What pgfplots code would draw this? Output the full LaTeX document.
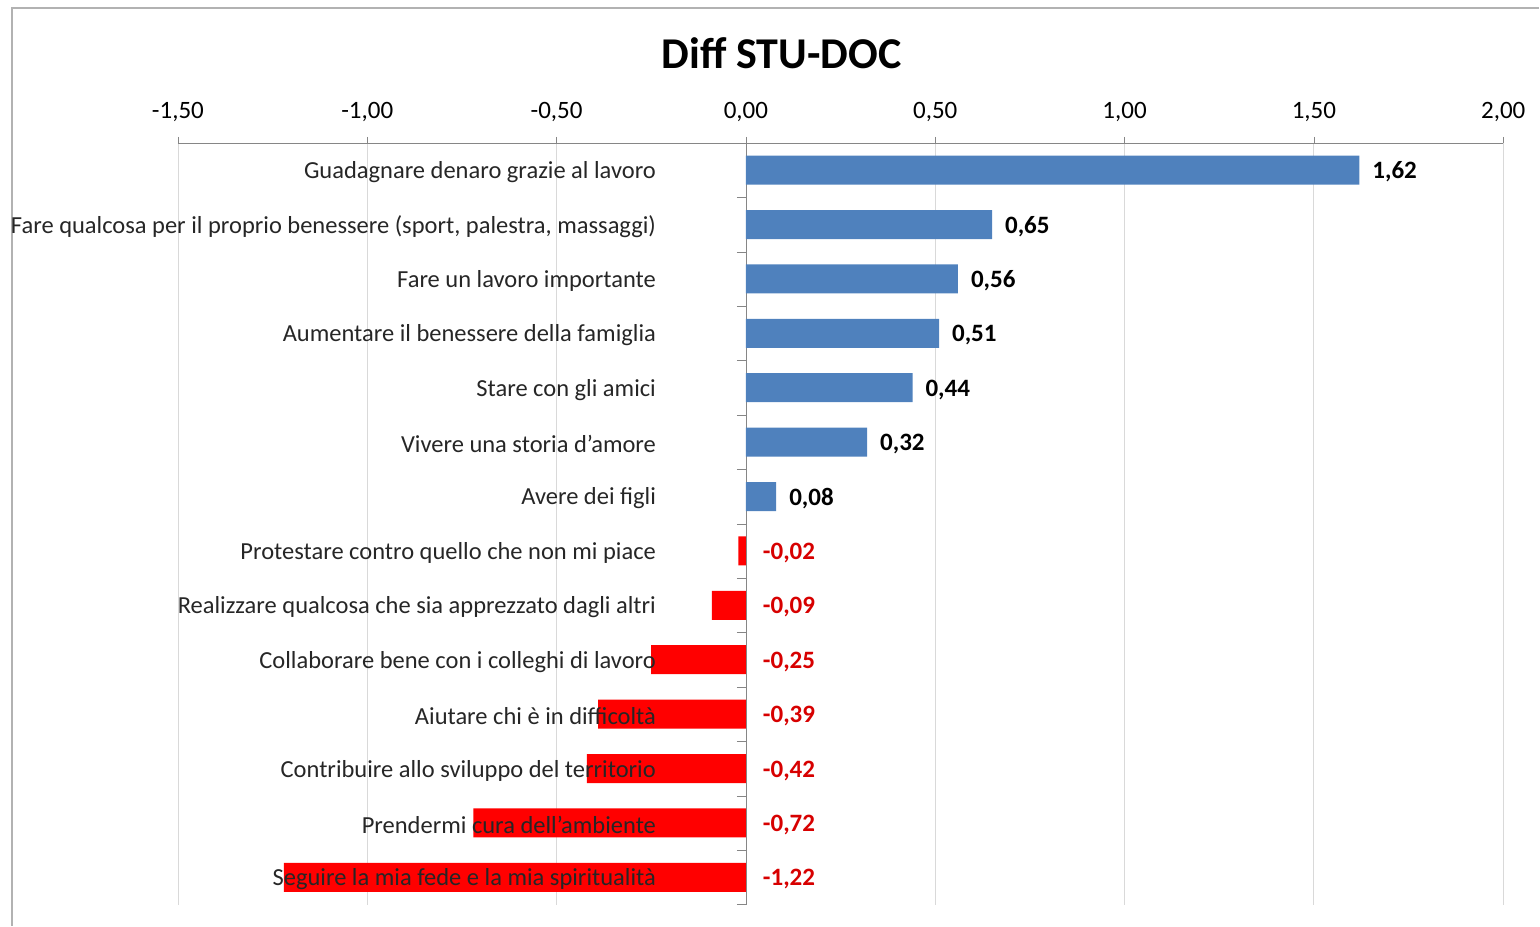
\documentclass[border=0pt]{standalone}
\usepackage{pgfplots}
\pgfplotsset{compat=1.18}
\usepackage{pgfplotstable}
\usepackage{fontspec}
\setmainfont{Carlito}
\definecolor{barblue}{RGB}{79,129,189}
\definecolor{barred}{RGB}{255,0,0}
\definecolor{labred}{RGB}{215,0,0}
\definecolor{gridgray}{RGB}{217,217,217}
\definecolor{axgray}{RGB}{134,134,134}

\pgfplotstableread{
y v
0 1.62
1 0.65
2 0.56
3 0.51
4 0.44
5 0.32
6 0.08
}\posdata
\pgfplotstableread{
y v z
7 -0.02 0
8 -0.09 0
9 -0.25 0
10 -0.39 0
11 -0.42 0
12 -0.72 0
13 -1.22 0
}\negdata
\pgfplotstableread[col sep=semicolon]{
y;z;name
0;0;Guadagnare denaro grazie al lavoro
1;0;Fare qualcosa per il proprio benessere (sport, palestra, massaggi)
2;0;Fare un lavoro importante
3;0;Aumentare il benessere della famiglia
4;0;Stare con gli amici
5;0;Vivere una storia d’amore
6;0;Avere dei figli
7;0;Protestare contro quello che non mi piace
8;0;Realizzare qualcosa che sia apprezzato dagli altri
9;0;Collaborare bene con i colleghi di lavoro
10;0;Aiutare chi è in difficoltà
11;0;Contribuire allo sviluppo del territorio
12;0;Prendermi cura dell'ambiente
13;0;Seguire la mia fede e la mia spiritualità
}\labdata

\begin{document}
\begin{tikzpicture}
\path (0,0) rectangle (770pt,463pt);
\draw[gray!60, line width=0.8pt] (6pt,0) -- (6pt,459pt) -- (770pt,459pt);
\node[font=\bfseries\fontsize{22}{26}\selectfont] at (391pt,436.5pt) {Diff STU-DOC};
\begin{axis}[
  at={(89pt,391.5pt)}, anchor=north west,
  scale only axis, width=663pt, height=381pt,
  xmin=-1.5, xmax=2, ymin=-0.5, ymax=13.5,
  y dir=reverse,
  enlargelimits=false,
  axis x line*=top,
  axis y line=middle,
  axis line style={-, draw=axgray},
  xtick={-1.5,-1,...,2},
  xmajorgrids, grid style={gridgray},
  tick align=outside,
  major x tick style={draw=axgray},
  major tick length=3pt,
  xticklabel style={font=\fontsize{12.5}{14}\selectfont, yshift=4pt},
  xticklabel={\pgfmathprintnumber[fixed, fixed zerofill, precision=2, use comma, assume math mode=true]{\tick}},
  ytick={0,...,13},
  yticklabels={},
  major y tick style={draw=none},
  minor ytick={-0.5,0.5,...,13.5},
  minor y tick style={draw=axgray},
  minor tick length=4.5pt,
  clip=false,
]
\addplot[xbar, bar width=14.5pt, bar shift=0pt, fill=barblue, draw=none,
  nodes near coords, point meta=explicit,
  nodes near coords style={anchor=west, xshift=3pt, yshift=-1pt, font=\bfseries\fontsize{12.5}{14}\selectfont, text=black,
    /pgf/number format/.cd, fixed, fixed zerofill, precision=2, use comma, assume math mode=true}]
  table[x=v, y=y, meta=v] {\posdata};
\addplot[xbar, bar width=14.5pt, bar shift=0pt, fill=barred, draw=none]
  table[x=v, y=y] {\negdata};
\addplot[draw=none, mark=none, nodes near coords, point meta=explicit,
  nodes near coords style={anchor=west, xshift=5pt, yshift=-1pt, font=\bfseries\fontsize{12.5}{14}\selectfont, text=labred,
    /pgf/number format/.cd, fixed, fixed zerofill, precision=2, use comma, assume math mode=true}]
  table[x=z, y=y, meta=v] {\negdata};
\addplot[draw=none, mark=none, nodes near coords, point meta=explicit symbolic,
  nodes near coords style={anchor=east, xshift=-41.5pt, yshift=-1pt, font=\fontsize{12.25}{14}\selectfont, text=black!85}]
  table[x=z, y=y, meta=name] {\labdata};
\end{axis}
\end{tikzpicture}
\end{document}
